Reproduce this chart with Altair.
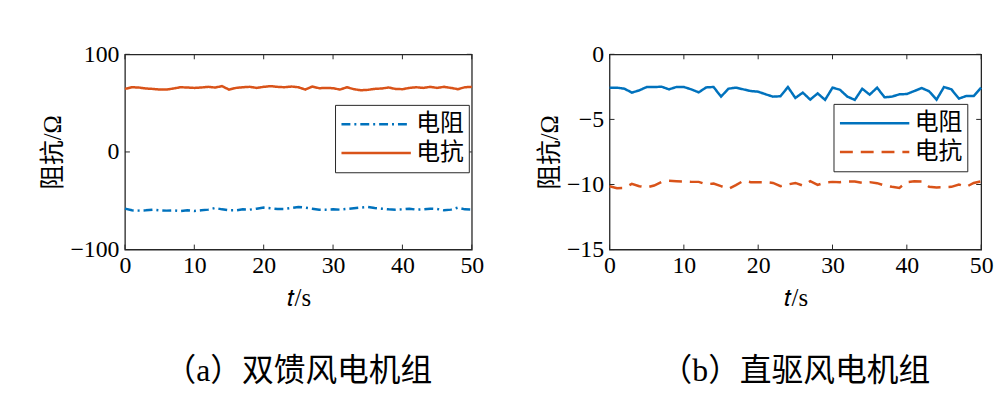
import altair as alt
import pandas as pd

# sample times (s)
t = list(range(0, 51))

# (a) DFIG wind turbine: resistance and reactance (ohm)
dfig_resistance = [-58.1, -59.8, -60.1, -59.8, -59.1, -59.8, -60.1, -59.8, -60.5, -59.8,
                   -60.5, -59.8, -59.1, -57.4, -58.8, -59.8, -59.8, -58.8, -59.1, -58.1,
                   -57.0, -57.7, -58.4, -58.4, -57.4, -56.4, -57.0, -58.1, -59.1, -59.1,
                   -58.8, -59.1, -58.4, -57.7, -57.0, -56.4, -57.4, -58.1, -58.8, -59.1,
                   -58.8, -58.1, -59.1, -58.8, -58.1, -58.4, -59.8, -59.1, -57.0, -58.8,
                   -59.1]
dfig_reactance = [64.6, 66.3, 66.0, 65.0, 64.6, 63.9, 63.9, 65.0, 66.3, 66.0,
                  65.6, 66.0, 66.7, 66.0, 67.4, 63.9, 65.6, 66.3, 66.7, 65.6,
                  66.7, 67.4, 66.7, 66.3, 67.0, 66.3, 63.9, 67.0, 65.3, 65.6,
                  65.3, 63.9, 66.3, 64.3, 63.2, 63.6, 64.6, 65.0, 66.0, 64.6,
                  64.3, 65.6, 66.3, 65.6, 66.7, 65.6, 66.7, 65.6, 64.3, 66.3,
                  66.7]

# (b) PMSG wind turbine: resistance and reactance (ohm)
pmsg_resistance = [-2.56, -2.56, -2.64, -2.94, -2.77, -2.51, -2.51, -2.49, -2.69, -2.51,
                   -2.51, -2.69, -2.92, -2.54, -2.51, -3.25, -2.64, -2.56, -2.69, -2.82,
                   -2.87, -3.07, -3.25, -3.22, -2.51, -3.35, -2.94, -3.48, -3.00, -3.50,
                   -2.56, -2.72, -3.25, -3.50, -2.64, -3.10, -2.56, -3.30, -3.25, -3.07,
                   -3.05, -2.82, -2.59, -2.84, -3.48, -2.51, -2.69, -3.40, -3.20, -3.20,
                   -2.56]
pmsg_reactance = [-10.13, -10.28, -10.26, -9.95, -10.13, -10.23, -10.08, -9.80, -9.72, -9.75,
                  -9.77, -9.80, -9.80, -9.98, -9.93, -10.13, -10.33, -10.05, -9.72, -9.82,
                  -9.82, -9.82, -9.88, -10.13, -10.00, -9.88, -10.08, -9.75, -10.03, -9.85,
                  -9.80, -9.82, -9.77, -9.77, -9.88, -9.82, -9.90, -10.08, -10.18, -10.26,
                  -9.82, -9.75, -9.77, -10.18, -10.23, -10.21, -10.18, -10.00, -10.18, -9.88,
                  -9.75]

series_names = ["电阻", "电抗"]
x_ticks = [0, 10, 20, 30, 40, 50]
left_y_ticks = [-100, 0, 100]
right_y_ticks = [-15, -10, -5, 0]
captions = ["（a）双馈风电机组", "（b）直驱风电机组"]

BLUE = "#0072BD"
ORANGE = "#D95319"
FRAME = "#262626"
SERIF = "Liberation Serif, Noto Sans CJK SC"
H = 197


def panel(res, rea, width, ydom, yticks, dashes, lx, ly, caption):
    df = pd.DataFrame({
        "t": t + t,
        "value": res + rea,
        "series": [series_names[0]] * len(t) + [series_names[1]] * len(t),
    })
    legend = alt.Legend(
        title=None, orient="none", legendX=lx, legendY=ly,
        fillColor="white", strokeColor=FRAME, padding=5,
        labelFont=SERIF, labelFontSize=24, labelColor="black",
        symbolType="stroke", symbolSize=4900, symbolStrokeWidth=2.5,
        clipHeight=29, rowPadding=0, labelOffset=4,
    )
    xs = alt.Scale(domain=[0, 50], nice=False)
    ys = alt.Scale(domain=ydom, nice=False)
    xaxis = alt.Axis(values=x_ticks, title="𝑡/s", labelFlush=False, labelOverlap=False,
                     titlePadding=8, labelPadding=4)
    yaxis = alt.Axis(values=yticks, title="阻抗/Ω", labelFlush=False, labelOverlap=False,
                     titlePadding=4, labelPadding=6)
    lines = alt.Chart(df).mark_line(strokeWidth=2.5).encode(
        x=alt.X("t:Q", scale=xs, axis=xaxis),
        y=alt.Y("value:Q", scale=ys, axis=yaxis),
        color=alt.Color("series:N", scale=alt.Scale(domain=series_names, range=[BLUE, ORANGE]),
                        legend=legend),
        strokeDash=alt.StrokeDash("series:N", scale=alt.Scale(domain=series_names, range=dashes),
                                  legend=legend),
    )
    xt = pd.DataFrame({"t": x_ticks})
    yt = pd.DataFrame({"value": yticks})
    top = alt.Chart(xt).mark_rule(color=FRAME, strokeWidth=1).encode(
        x=alt.X("t:Q", scale=xs, axis=xaxis), y=alt.value(0), y2=alt.value(5))
    bottom = alt.Chart(xt).mark_rule(color=FRAME, strokeWidth=1).encode(
        x=alt.X("t:Q", scale=xs, axis=xaxis), y=alt.value(H), y2=alt.value(H - 5))
    left = alt.Chart(yt).mark_rule(color=FRAME, strokeWidth=1).encode(
        y=alt.Y("value:Q", scale=ys, axis=yaxis), x=alt.value(0), x2=alt.value(5))
    right = alt.Chart(yt).mark_rule(color=FRAME, strokeWidth=1).encode(
        y=alt.Y("value:Q", scale=ys, axis=yaxis), x=alt.value(width), x2=alt.value(width - 5))
    return alt.layer(lines, top, bottom, left, right).properties(
        width=width, height=H,
        title=alt.TitleParams(caption, orient="bottom", anchor="middle", font=SERIF,
                              fontSize=32, fontWeight="normal", color="black", offset=47),
    )


p1 = panel(dfig_resistance, dfig_reactance, 350, [-100, 100], left_y_ticks,
           [[9, 4, 2, 4], [1, 0]], 212, 51, captions[0])
p2 = panel(pmsg_resistance, pmsg_reactance, 375, [-15, 0], right_y_ticks,
           [[1, 0], [13, 8]], 226, 50, captions[1])

chart = alt.hconcat(p1, p2, spacing=52).resolve_scale(
    color="independent", strokeDash="independent",
).resolve_legend(
    color="independent", strokeDash="independent",
).properties(
    padding={"left": 32, "top": 32, "right": 5, "bottom": 5},
    background="white",
).configure_view(
    stroke=FRAME, strokeWidth=1.3,
).configure_axis(
    labelFont=SERIF, labelFontSize=24, labelColor="black",
    titleFont=SERIF, titleFontSize=25, titleFontWeight="normal", titleColor="black",
    ticks=False, domain=False, grid=False,
)

chart.save("out.html", embed_options={"renderer": "svg", "actions": False})
